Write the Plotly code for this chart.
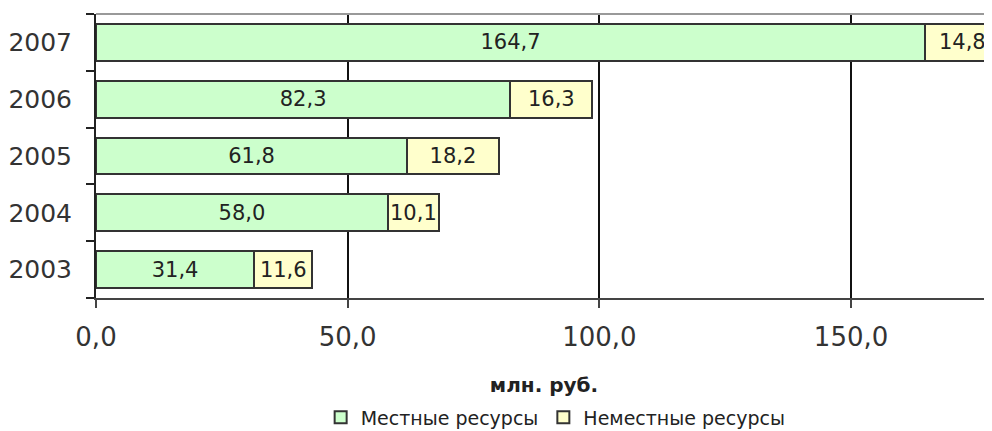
import plotly.graph_objects as go

years = ["2003", "2004", "2005", "2006", "2007"]
local_res = [31.4, 58.0, 61.8, 82.3, 164.7]
nonlocal_res = [11.6, 10.1, 18.2, 16.3, 14.8]
x_ticks = [0, 50, 100, 150]
x_tick_labels = ["0,0", "50,0", "100,0", "150,0"]
series_names = ["Местные ресурсы", "Неместные ресурсы"]

def fmt(v):
    return f"{v:.1f}".replace(".", ",")

FONT = "DejaVu Sans, Verdana, sans-serif"

fig = go.Figure()
fig.add_trace(go.Bar(
    y=years, x=local_res, orientation="h", name=series_names[0],
    marker=dict(color="#CCFFCC", line=dict(color="#333333", width=2)),
    text=[fmt(v) for v in local_res], textposition="inside",
    insidetextanchor="middle", textangle=0, constraintext="none",
    textfont=dict(family=FONT, size=21, color="#222222"),
))
fig.add_trace(go.Bar(
    y=years, x=nonlocal_res, orientation="h", name=series_names[1],
    marker=dict(color="#FFFFCC", line=dict(color="#333333", width=2)),
    text=[fmt(v) for v in nonlocal_res], textposition="inside",
    insidetextanchor="middle", textangle=0, constraintext="none",
    textfont=dict(family=FONT, size=21, color="#222222"),
))

fig.update_layout(
    width=984, height=423,
    barmode="stack", bargap=0.35,
    plot_bgcolor="white", paper_bgcolor="white",
    margin=dict(l=88, r=0, t=6, b=133, autoexpand=False),
    font=dict(family=FONT, size=25, color="#333333"),
    showlegend=True,
    legend=dict(orientation="h", x=0.513, xanchor="center", y=-0.42, yanchor="middle",
                font=dict(size=19, color="#222222"), traceorder="normal",
                itemwidth=30),
    xaxis=dict(
        range=[0, 178], tickvals=x_ticks, ticktext=x_tick_labels,
        tickfont=dict(size=26),
        showgrid=True, gridcolor="#111111", gridwidth=2, zeroline=False,
        showline=True, linecolor="#444444", linewidth=2,
        ticks="outside", ticklen=8, tickwidth=2, tickcolor="#444444",
        ticklabelstandoff=7, automargin=False,
        title=dict(text="<b>млн. руб.</b>", font=dict(size=20, color="#222222"), standoff=27),
        fixedrange=True,
    ),
    yaxis=dict(
        categoryorder="array", categoryarray=years,
        tickfont=dict(size=25),
        showline=True, linecolor="#222222", linewidth=2,
        ticks="outside", ticklen=8, tickwidth=2, tickcolor="#222222",
        tickson="boundaries", ticklabelstandoff=17, automargin=False,
        showgrid=False, zeroline=False,
    ),
)
fig.add_shape(type="line", xref="paper", yref="paper", x0=0, x1=1, y0=1, y1=1,
              line=dict(color="#999999", width=2))

fig.write_html("out.html")
